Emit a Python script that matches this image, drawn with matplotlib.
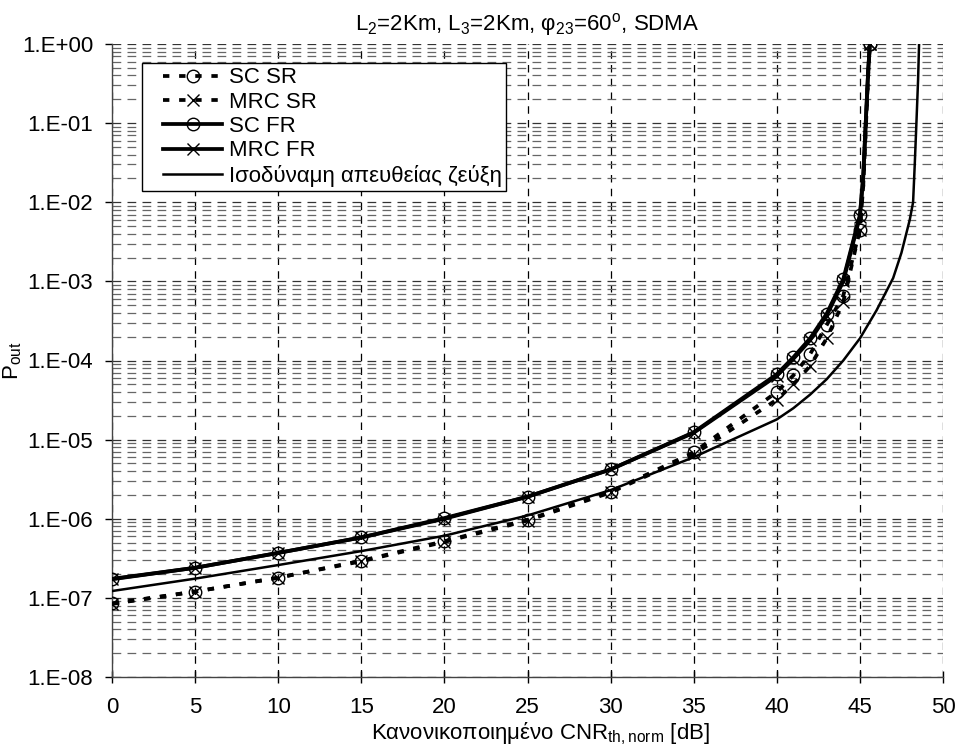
import matplotlib
matplotlib.use("Agg")
import matplotlib.pyplot as plt
from matplotlib.ticker import FixedLocator, LogLocator, NullFormatter
from matplotlib.legend_handler import HandlerLine2D

plt.rcParams['font.family'] = ['Liberation Sans', 'DejaVu Sans']
plt.rcParams['mathtext.fontset'] = 'custom'
plt.rcParams['mathtext.rm'] = 'Liberation Sans'
plt.rcParams['mathtext.it'] = 'Liberation Sans'
plt.rcParams['mathtext.default'] = 'regular'

# Normalised CNR threshold [dB]
x_relay = [0, 5, 10, 15, 20, 25, 30, 35, 40, 41, 42, 43, 44, 45, 45.2, 45.35, 45.5, 45.6]
marker_idx = [0, 1, 2, 3, 4, 5, 6, 7, 8, 9, 10, 11, 12, 13, 17]

sc_sr = [8.5e-8, 1.2e-7, 1.8e-7, 2.95e-7, 5.2e-7, 9.7e-7, 2.2e-6, 6.9e-6, 4.0e-5,
         6.5e-5, 1.2e-4, 2.8e-4, 6.6e-4, 4.5e-3, 1.6e-2, 8.0e-2, 0.42, 1.0]
mrc_sr = [8.4e-8, 1.2e-7, 1.8e-7, 2.9e-7, 5.1e-7, 9.5e-7, 2.15e-6, 6.5e-6, 3.2e-5,
          5.0e-5, 8.5e-5, 1.9e-4, 5.5e-4, 4.5e-3, 1.6e-2, 8.0e-2, 0.42, 1.0]
sc_fr = [1.74e-7, 2.4e-7, 3.7e-7, 5.8e-7, 1.02e-6, 1.9e-6, 4.2e-6, 1.24e-5, 6.7e-5,
         1.1e-4, 1.9e-4, 3.9e-4, 1.07e-3, 6.9e-3, 2.1e-2, 0.1, 0.47, 1.0]
mrc_fr = [1.72e-7, 2.4e-7, 3.7e-7, 5.8e-7, 1.0e-6, 1.9e-6, 4.2e-6, 1.22e-5, 6.4e-5,
          1.05e-4, 1.8e-4, 3.7e-4, 1.0e-3, 6.6e-3, 2.1e-2, 0.1, 0.47, 1.0]

x_direct = [0, 5, 10, 15, 20, 25, 30, 35, 40, 41, 42, 43, 44, 45, 46, 47, 47.5,
            48, 48.2, 48.3, 48.4, 48.5, 48.56]
direct = [1.22e-7, 1.75e-7, 2.6e-7, 3.9e-7, 6.1e-7, 1.1e-6, 2.3e-6, 6.0e-6, 1.8e-5,
          2.5e-5, 3.7e-5, 5.8e-5, 1.0e-4, 1.9e-4, 4.3e-4, 1.1e-3, 2.3e-3,
          6.0e-3, 1.0e-2, 3.0e-2, 0.1, 0.35, 1.0]

labels = ['SC SR', 'MRC SR', 'SC FR', 'MRC FR', 'Ισοδύναμη απευθείας ζεύξη']
x_ticks = [0, 5, 10, 15, 20, 25, 30, 35, 40, 45, 50]
y_ticks = [1e-8, 1e-7, 1e-6, 1e-5, 1e-4, 1e-3, 1e-2, 1e-1, 1e0]
y_ticklabels = ['1.E-08', '1.E-07', '1.E-06', '1.E-05', '1.E-04', '1.E-03',
                '1.E-02', '1.E-01', '1.E+00']

FS = 16

fig = plt.figure(figsize=(9.57, 7.47), dpi=100)
ax = fig.add_axes([112 / 957, 1 - 677 / 747, 831 / 957, 633 / 747])

dash = (0, (1.7, 2.6))
mk = dict(markersize=9, markerfacecolor='none', markeredgecolor='black', markeredgewidth=1.0)

ax.plot(x_relay, sc_sr, color='black', lw=2.7, ls=dash, marker='o', markevery=marker_idx,
        label=labels[0], zorder=4, **mk)
ax.plot(x_relay, mrc_sr, color='black', lw=2.7, ls=dash, marker='x', markevery=marker_idx,
        label=labels[1], zorder=4, **mk)
ax.plot(x_relay, sc_fr, color='black', lw=2.7, ls='-', marker='o', markevery=marker_idx,
        label=labels[2], zorder=5, **mk)
ax.plot(x_relay, mrc_fr, color='black', lw=2.7, ls='-', marker='x', markevery=marker_idx,
        label=labels[3], zorder=5, **mk)
ax.plot(x_direct, direct, color='black', lw=1.8, ls='-', label=labels[4], zorder=3)

ax.set_yscale('log')
ax.set_xlim(0, 50)
ax.set_ylim(1e-8, 1)
ax.xaxis.set_major_locator(FixedLocator(x_ticks))
ax.set_xticklabels([str(t) for t in x_ticks], fontsize=FS)
ax.yaxis.set_major_locator(FixedLocator(y_ticks))
ax.set_yticklabels(y_ticklabels, fontsize=FS)
ax.yaxis.set_minor_locator(LogLocator(base=10, subs=range(2, 10), numticks=20))
ax.yaxis.set_minor_formatter(NullFormatter())

ax.tick_params(axis='x', which='major', direction='inout', length=9, width=1, pad=10)
ax.tick_params(axis='y', which='major', direction='out', length=5, width=1, pad=8.5)
ax.tick_params(axis='y', which='minor', length=0)

ax.grid(True, axis='x', which='major', color='black', lw=0.9, ls=(0, (6, 5)), zorder=1)
ax.grid(True, axis='y', which='major', color='#333333', lw=0.9, ls=(0, (7, 5)), zorder=1)
ax.grid(True, axis='y', which='minor', color='#666666', lw=0.9, ls=(0, (7, 5)), zorder=1)
ax.set_axisbelow(True)

for side in ('top', 'right'):
    ax.spines[side].set_visible(False)
for side in ('left', 'bottom'):
    ax.spines[side].set_color('#444444')
    ax.spines[side].set_linewidth(1.0)

ax.set_title('L$_2$=2Km, L$_3$=2Km, φ$_{23}$=60$^o$, SDMA', fontsize=FS, pad=10)
ax.set_xlabel('Κανονικοποιημένο CNR$_{th,norm}$ [dB]', fontsize=FS, va='top')
ax.xaxis.set_label_coords(0.515, -0.068)
ax.set_ylabel('P$_{out}$', fontsize=FS)
ax.yaxis.set_label_coords(-0.106, 0.5)

handler = HandlerLine2D(xpad=0.75)
leg = ax.legend(loc='upper left', bbox_to_anchor=((142 - 112) / 831, 1 - (63 - 44) / 633),
                borderaxespad=0, fontsize=FS, frameon=True, fancybox=False,
                edgecolor='black', framealpha=1, handlelength=3.4, handletextpad=0.3,
                labelspacing=0.15, borderpad=0.2,
                handler_map={plt.Line2D: handler})
leg.get_frame().set_linewidth(1.0)

fig.savefig('out.png', dpi=100)
